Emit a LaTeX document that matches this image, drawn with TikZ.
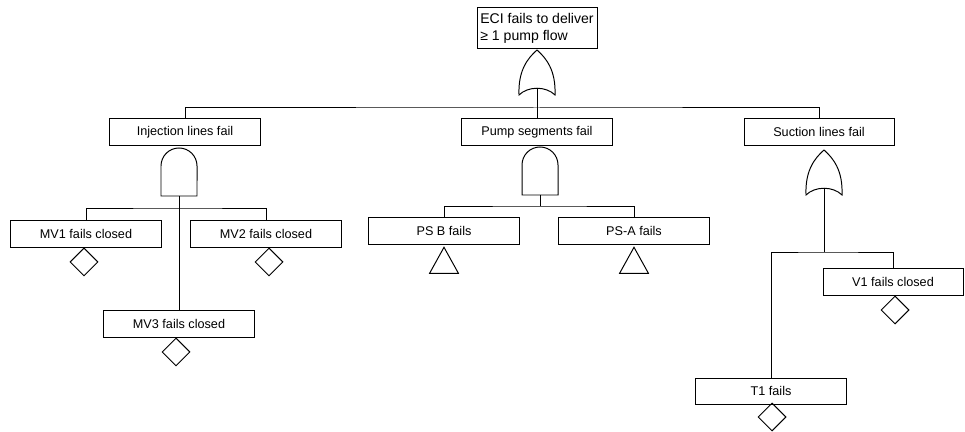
\documentclass[tikz,border=0pt]{standalone}
\usepackage{fontspec}
\setmainfont{Liberation Sans}
\usetikzlibrary{shapes.geometric}

\begin{document}
\begin{tikzpicture}[x=0.025cm, y=0.025cm, line width=0.7pt,
        evt/.style={draw, rectangle, minimum width=3.75cm, minimum height=0.65cm, inner sep=1pt, font=\fontsize{9}{11}\selectfont},
        basic/.style={draw, diamond, minimum width=0.7cm, minimum height=0.7cm, inner sep=0pt},
        xfer/.style={draw, isosceles triangle, shape border rotate=90, isosceles triangle stretches=true, minimum width=0.72cm, minimum height=0.65cm, inner sep=0pt},
        andgate/.pic={
            \draw (-18,0) -- (-18,30) arc[start angle=180, end angle=0, radius=0.45cm] -- (18,0) -- cycle;
            \coordinate (-in) at (0,48);
            \coordinate (-out) at (0,0);
        },
        orgate/.pic={
            \draw (-18,0) .. controls (-19,25) and (-9,37) .. (0,45) .. controls (9,37) and (19,25) .. (18,0) .. controls (9,9) and (-9,9) .. cycle;
            \coordinate (-in) at (0,45);
            \coordinate (-out) at (0,7);
        }]
        \useasboundingbox (0,0) rectangle (965,432);

        % Top event
        \node[draw, rectangle, align=left, minimum width=3cm, minimum height=1cm, inner sep=2pt, font=\fontsize{10}{12}\selectfont] (top) at (537,404) {ECI fails to deliver\\≥ 1 pump flow};
        \pic (g0) at (537,337) {orgate};

        % Intermediate events
        \node[evt] (inj) at (185,300) {Injection lines fail};
        \node[evt] (pump) at (537,300) {Pump segments fail};
        \node[evt] (suc) at (819,300) {Suction lines fail};

        % Gates under the intermediate events
        \pic (g1) at (179,236) {andgate};
        \pic (g2) at (540,237) {andgate};
        \pic (g3) at (824,237) {orgate};

        % Basic events
        \node[evt] (mv1) at (86,198) {MV1 fails closed};
        \node[evt] (mv2) at (266,198) {MV2 fails closed};
        \node[evt] (mv3) at (179,108) {MV3 fails closed};
        \node[evt] (psb) at (444,201) {PS B fails};
        \node[evt] (psa) at (634,201) {PS-A fails};
        \node[evt, minimum width=3.5cm] (v1) at (893,150) {V1 fails closed};
        \node[evt] (t1) at (771,41) {T1 fails};

        % Diamonds and transfer triangles
        \node[basic] (dmv1) at (84,170) {};
        \node[basic] (dmv2) at (269,170) {};
        \node[basic] (dmv3) at (176,80) {};
        \node[basic] (dv1) at (895,122) {};
        \node[basic] (dt1) at (772,15) {};
        \node[xfer, anchor=apex] (tpsb) at (444,186) {};
        \node[xfer, anchor=apex] (tpsa) at (634,186) {};

        % Connections
        \coordinate (b0) at (537,324);
        \draw (g0-out) -- (pump.north);
        \draw (inj.north) |- (b0) -| (suc.north);

        \coordinate (b1) at (179,224);
        \draw (g1-out) -- (mv3.north);
        \draw (mv1.north) |- (b1) -| (mv2.north);

        \coordinate (b2) at (540,226);
        \draw (g2-out) -- (b2);
        \draw (psb.north) |- (b2) -| (psa.north);

        \coordinate (b3) at (824,180);
        \draw (g3-out) -- (b3);
        \draw (t1.north) |- (b3) -| (v1.north);
    \end{tikzpicture}
\end{document}
